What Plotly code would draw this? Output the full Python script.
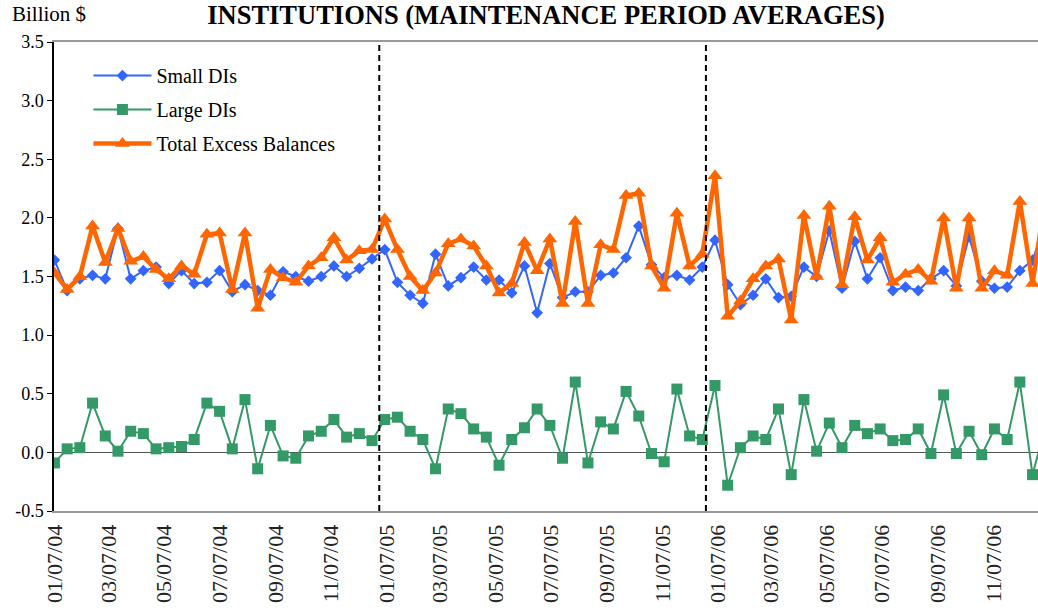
import pandas as pd
import plotly.graph_objects as go

# Excess balances by institution size, maintenance period averages (billion $)
small_dis = [1.64, 1.38, 1.48, 1.51, 1.48, 1.91, 1.48, 1.55, 1.58, 1.44, 1.55, 1.44, 1.45, 1.55, 1.37, 1.43,
             1.38, 1.34, 1.54, 1.50, 1.46, 1.50, 1.59, 1.50, 1.57, 1.65,
             1.73, 1.45, 1.34, 1.27, 1.69, 1.42, 1.49, 1.58, 1.47, 1.47, 1.36, 1.59, 1.19, 1.61, 1.32, 1.37,
             1.37, 1.51, 1.53, 1.66, 1.93, 1.60, 1.49, 1.51, 1.47, 1.58,
             1.81, 1.43, 1.26, 1.34, 1.48, 1.32, 1.33, 1.58, 1.50, 1.89, 1.40, 1.80, 1.48, 1.66, 1.38, 1.41,
             1.38, 1.48, 1.55, 1.42, 1.84, 1.46, 1.40, 1.41, 1.55, 1.64, 1.95]
large_dis = [-0.09, 0.03, 0.04, 0.42, 0.14, 0.01, 0.18, 0.16, 0.03, 0.04, 0.05, 0.11, 0.42, 0.35, 0.03, 0.45,
             -0.14, 0.23, -0.03, -0.05, 0.14, 0.18, 0.28, 0.13, 0.16, 0.10,
             0.28, 0.30, 0.18, 0.11, -0.14, 0.37, 0.33, 0.20, 0.13, -0.11, 0.11, 0.21, 0.37, 0.23, -0.05, 0.60,
             -0.09, 0.26, 0.20, 0.52, 0.31, -0.01, -0.08, 0.54, 0.14, 0.11,
             0.57, -0.28, 0.04, 0.14, 0.11, 0.37, -0.19, 0.45, 0.01, 0.25, 0.04, 0.23, 0.16, 0.20, 0.10, 0.11,
             0.20, -0.01, 0.49, -0.01, 0.18, -0.02, 0.20, 0.11, 0.60, -0.19, 0.22]
total_excess = [1.53, 1.39, 1.50, 1.93, 1.62, 1.91, 1.63, 1.67, 1.56, 1.48, 1.59, 1.52, 1.86, 1.87, 1.39, 1.87,
                1.23, 1.56, 1.49, 1.45, 1.59, 1.66, 1.83, 1.64, 1.72, 1.73,
                1.99, 1.73, 1.50, 1.38, 1.53, 1.78, 1.82, 1.76, 1.59, 1.36, 1.44, 1.79, 1.55, 1.82, 1.27, 1.97,
                1.27, 1.77, 1.73, 2.19, 2.21, 1.59, 1.40, 2.04, 1.59, 1.69,
                2.36, 1.16, 1.29, 1.48, 1.59, 1.65, 1.13, 2.02, 1.50, 2.10, 1.43, 2.01, 1.64, 1.83, 1.45, 1.52,
                1.56, 1.46, 2.00, 1.40, 2.00, 1.40, 1.55, 1.51, 2.14, 1.44, 2.17]

# two-week maintenance periods
periods = pd.date_range("2004-01-07", periods=len(small_dis), freq="14D")

tick_dates = ["2004-01-07", "2004-03-07", "2004-05-07", "2004-07-07", "2004-09-07", "2004-11-07",
              "2005-01-07", "2005-03-07", "2005-05-07", "2005-07-07", "2005-09-07", "2005-11-07",
              "2006-01-07", "2006-03-07", "2006-05-07", "2006-07-07", "2006-09-07", "2006-11-07"]
tick_labels = ["01/07/04", "03/07/04", "05/07/04", "07/07/04", "09/07/04", "11/07/04",
               "01/07/05", "03/07/05", "05/07/05", "07/07/05", "09/07/05", "11/07/05",
               "01/07/06", "03/07/06", "05/07/06", "07/07/06", "09/07/06", "11/07/06"]
y_ticks = [-0.5, 0.0, 0.5, 1.0, 1.5, 2.0, 2.5, 3.0, 3.5]
y_labels = ["-0.5", "0.0", "0.5", "1.0", "1.5", "2.0", "2.5", "3.0", "3.5"]
year_breaks = ["2004-12-30", "2005-12-25"]

serif = "Liberation Serif, Times New Roman, serif"

fig = go.Figure()
fig.add_trace(go.Scatter(x=periods, y=small_dis, name="Small DIs", mode="lines+markers",
                         line=dict(color="#3366FF", width=2),
                         marker=dict(symbol="diamond", size=9, color="#3366FF"),
                         legendgroup="a"))
fig.add_trace(go.Scatter(x=periods, y=large_dis, name="Large DIs", mode="lines+markers",
                         line=dict(color="#339966", width=2),
                         marker=dict(symbol="square", size=11, color="#339966"),
                         legendgroup="b"))
fig.add_trace(go.Scatter(x=periods, y=total_excess, name="Total Excess Balances", mode="lines+markers",
                         line=dict(color="#FF6600", width=4.5),
                         marker=dict(symbol="triangle-up", size=13, color="#FF6600"),
                         legendgroup="c"))

for d in year_breaks:
    fig.add_shape(type="line", xref="x", yref="paper", x0=d, x1=d, y0=0, y1=1,
                  line=dict(color="black", width=2, dash="6px,4px"))

fig.add_annotation(text="Billion $", xref="paper", yref="paper", x=-0.045, y=1.06,
                   xanchor="left", yanchor="middle", showarrow=False,
                   font=dict(family=serif, size=21, color="black"))

fig.update_layout(
    width=1038, height=613,
    margin=dict(l=54, r=0, t=42, b=102),
    paper_bgcolor="white", plot_bgcolor="white",
    title=dict(text="<b>INSTITUTIONS (MAINTENANCE PERIOD AVERAGES)</b>",
               x=0.5, xref="paper", y=1 - 15 / 613, yref="container", yanchor="middle",
               font=dict(family=serif, size=26.5, color="black")),
    font=dict(family=serif, color="black"),
    legend=dict(x=0.035, y=0.97, xanchor="left", yanchor="top", bgcolor="rgba(0,0,0,0)",
                font=dict(family=serif, size=20, color="black"), itemwidth=58,
                traceorder="grouped", tracegroupgap=5),
    xaxis=dict(type="date", range=["2004-01-06 12:00", "2006-12-26"], automargin=False,
               tickmode="array", tickvals=tick_dates, ticktext=tick_labels, tickangle=-90,
               ticks="", showgrid=False, zeroline=False,
               showline=True, linecolor="#999999", linewidth=2, mirror=True,
               tickfont=dict(family=serif, size=22, color="#222222"), ticklabelstandoff=3),
    yaxis=dict(range=[-0.5, 3.5], tickmode="array", tickvals=y_ticks, ticktext=y_labels,
               showgrid=False, automargin=False,
               zeroline=True, zerolinecolor="#555555", zerolinewidth=1,
               showline=True, linecolor="black", linewidth=1.5,
               ticks="outside", ticklen=5, tickcolor="black",
               tickfont=dict(family=serif, size=18, color="black")),
)

# page margin off so the figure sits at the window's corner
fig.write_html("out.html", config={"displayModeBar": False},
               post_script="document.body.style.margin='0';")
